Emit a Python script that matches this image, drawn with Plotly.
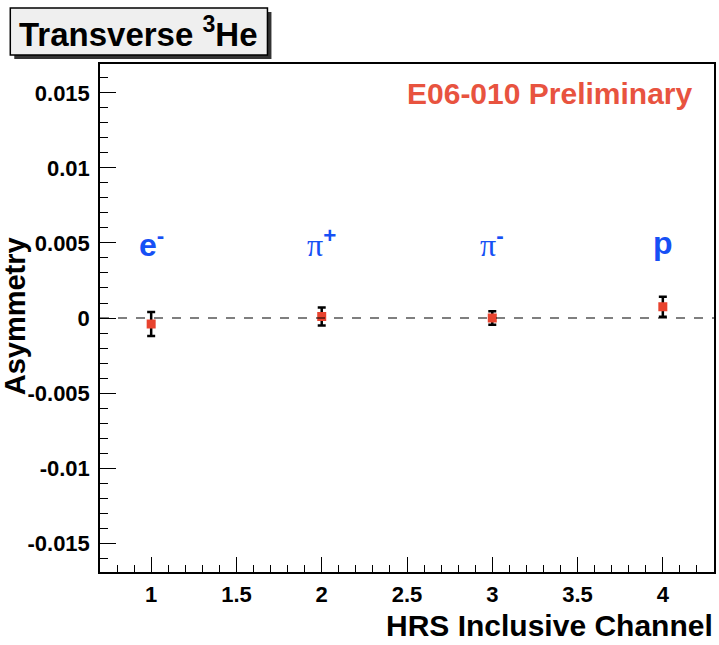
import plotly.graph_objects as go

channels = [1, 2, 3, 4]
asym = [-0.0004, 0.0001, 0.0, 0.00075]
asym_err = [0.0008, 0.0006, 0.00045, 0.00067]
particle_labels = [
    "<b>e</b><sup><b>-</b></sup>",
    "<span style='font-family:Liberation Serif, Times New Roman, serif'>π</span><sup><b>+</b></sup>",
    "<span style='font-family:Liberation Serif, Times New Roman, serif'>π</span><sup><b>-</b></sup>",
    "<b>p</b>",
]
label_y = 0.005

xtick_vals = [1, 1.5, 2, 2.5, 3, 3.5, 4]
xtick_text = ["1", "1.5", "2", "2.5", "3", "3.5", "4"]
ytick_vals = [-0.015, -0.01, -0.005, 0, 0.005, 0.01, 0.015]
ytick_text = ["-0.015", "-0.01", "-0.005", "0", "0.005", "0.01", "0.015"]

FONT = "Liberation Sans, Arial, Helvetica, sans-serif"
W, H = 719, 645
L, R, T, B = 100, 3, 64, 73
PW, PH = W - L - R, H - T - B

def px(x):
    return (x - L) / PW

def py(y):
    return (H - B - y) / PH

fig = go.Figure()
fig.add_trace(go.Scatter(
    x=channels, y=asym,
    mode="markers",
    marker=dict(symbol="square", size=9, color="#e8432e"),
    error_y=dict(type="data", array=asym_err, color="black", thickness=2.5, width=4),
    showlegend=False,
))

fig.add_shape(type="line", xref="paper", yref="y", x0=0, x1=1, y0=0, y1=0,
              line=dict(color="black", width=1.2, dash="dash"))

for xv, lab in zip(channels, particle_labels):
    fig.add_annotation(x=xv, y=label_y, xref="x", yref="y", text=lab, showarrow=False,
                       font=dict(family=FONT, size=32, color="#1650f5"),
                       yanchor="middle")

fig.add_annotation(x=px(696), y=py(93), xref="paper", yref="paper",
                   text="E06-010 Preliminary", showarrow=False,
                   xanchor="right", yanchor="middle",
                   font=dict(family=FONT, size=30, color="#e8533f", weight="bold"))

# title box with shadow
fig.add_shape(type="rect", xref="paper", yref="paper",
              x0=px(14), x1=px(272), y0=py(59), y1=py(12),
              fillcolor="#333333", line=dict(width=0), layer="above")
fig.add_shape(type="rect", xref="paper", yref="paper",
              x0=px(10), x1=px(268), y0=py(55), y1=py(8),
              fillcolor="#efefef", line=dict(color="black", width=1.5), layer="above")
fig.add_annotation(x=px(139), y=py(32), xref="paper", yref="paper",
                   text="Transverse <sup>3</sup>He", showarrow=False,
                   xanchor="center", yanchor="middle",
                   font=dict(family=FONT, size=33, color="black", weight="bold"))

fig.add_annotation(x=px(717), y=py(625), xref="paper", yref="paper",
                   text="HRS Inclusive Channel", showarrow=False,
                   xanchor="right", yanchor="middle",
                   font=dict(family=FONT, size=30, color="black", weight="bold"))
fig.add_annotation(x=px(15), y=py(316), xref="paper", yref="paper",
                   text="Asymmetry", showarrow=False, textangle=-90,
                   xanchor="center", yanchor="middle",
                   font=dict(family=FONT, size=29, color="black", weight="bold"))

fig.update_xaxes(range=[0.7, 4.3], tickvals=xtick_vals, ticktext=xtick_text,
                 ticks="inside", ticklen=15, tickwidth=1.2, tickcolor="black",
                 minor=dict(dtick=0.1, tick0=0, ticks="inside", ticklen=7, tickwidth=1.2, tickcolor="black"),
                 showline=True, linecolor="black", linewidth=1.5, mirror=True,
                 showgrid=False, zeroline=False, ticklabelstandoff=2,
                 tickfont=dict(family=FONT, size=22, color="black", weight="bold"))
fig.update_yaxes(range=[-0.01693, 0.01693], tickvals=ytick_vals, ticktext=ytick_text,
                 ticks="inside", ticklen=16, tickwidth=1.2, tickcolor="black",
                 minor=dict(dtick=0.001, tick0=0, ticks="inside", ticklen=8, tickwidth=1.2, tickcolor="black"),
                 showline=True, linecolor="black", linewidth=1.5, mirror=True,
                 showgrid=False, zeroline=False, ticklabelstandoff=4,
                 tickfont=dict(family=FONT, size=22, color="black", weight="bold"))

fig.update_layout(width=W, height=H, margin=dict(l=L, r=R, t=T, b=B),
                  plot_bgcolor="white", paper_bgcolor="white")

fig.write_html("out.html")
